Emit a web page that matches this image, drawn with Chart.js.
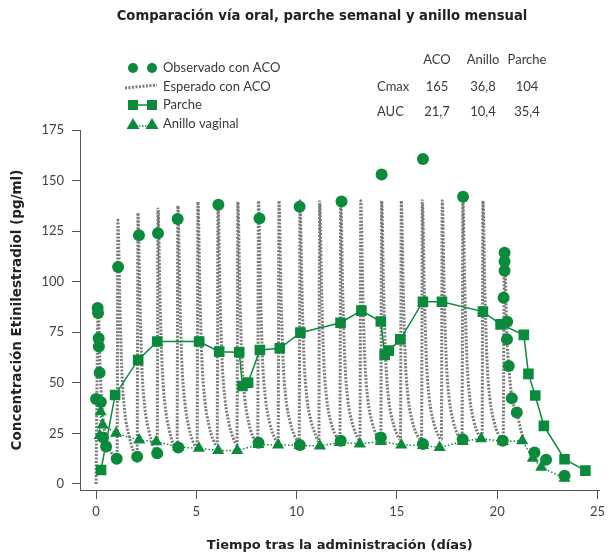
<!DOCTYPE html>
<html>
<head>
<meta charset="utf-8">
<script src="https://cdn.jsdelivr.net/npm/chart.js@4"></script>
<style>
  html, body { margin: 0; padding: 0; background: #fff; }
</style>
</head>
<body>
<canvas id="grafico" width="610" height="553"></canvas>
<script>
// Valores (dias, pg/ml)
const observadoACO = [
    [0.0, 42], [0.08, 87], [0.1, 84.5], [0.13, 72], [0.14, 68], [0.18, 55], [0.24, 40.5],
    [0.35, 23], [0.5, 18.5],
    [1.03, 12.4], [1.1, 107.3],
    [2.05, 13.5], [2.14, 123],
    [3.05, 15.2], [3.09, 124],
    [4.07, 131], [4.1, 18],
    [6.1, 138],
    [8.1, 20.4], [8.15, 131.3],
    [10.16, 19.3], [10.15, 137],
    [12.2, 21.3], [12.24, 139.6],
    [14.2, 23], [14.24, 153],
    [16.3, 19.8], [16.3, 160.7],
    [18.28, 22.1], [18.3, 142],
    [20.28, 21.4], [20.32, 92], [20.37, 114.3], [20.37, 110], [20.37, 105.4],
    [20.5, 80.2], [20.49, 71.5], [20.58, 58.3], [20.73, 42.4], [20.98, 35.3],
    [21.86, 15.5], [22.44, 11.9], [23.36, 4]
];

const esperadoACO = [
    [0, 0], [0.06, 60], [0.1, 88], [0.2, 58], [0.3, 38], [0.45, 25], [0.65, 18], [0.85, 14], [1.05, 12],
    [1.09, 130.5], [1.19, 88], [1.29, 55], [1.44, 35], [1.64, 24], [1.84, 17], [2.05, 14],
    [2.09, 134], [2.19, 90], [2.29, 57], [2.44, 37], [2.64, 26], [2.84, 19], [3.05, 15.5],
    [3.09, 136], [3.19, 92], [3.29, 59], [3.44, 39], [3.64, 27], [3.84, 20], [4.04, 17],
    [4.08, 137.5], [4.18, 93], [4.28, 60], [4.43, 40], [4.63, 28], [4.83, 21], [5.04, 18],
    [5.08, 139.5], [5.18, 94], [5.28, 61], [5.43, 41], [5.63, 29], [5.83, 22], [6.04, 19],
    [6.08, 140], [6.18, 95], [6.28, 62], [6.43, 42], [6.63, 30], [6.83, 23], [7.03, 19.5],
    [7.07, 139.5], [7.17, 95], [7.27, 62], [7.42, 42], [7.62, 30], [7.82, 23.5], [8.06, 20],
    [8.1, 140], [8.2, 95], [8.3, 62], [8.45, 42], [8.65, 30.5], [8.85, 24], [9.08, 20.5],
    [9.12, 140], [9.22, 95], [9.32, 62], [9.47, 42], [9.67, 31], [9.87, 24.5], [10.13, 21],
    [10.17, 140], [10.27, 95], [10.37, 62], [10.52, 42], [10.72, 31], [10.92, 25], [11.11, 21],
    [11.15, 139.5], [11.25, 95], [11.35, 62], [11.5, 42], [11.7, 31], [11.9, 25], [12.16, 21.5],
    [12.2, 140], [12.3, 95], [12.4, 62], [12.55, 42], [12.75, 31], [12.95, 25], [13.16, 21.5],
    [13.2, 140], [13.3, 95], [13.4, 62], [13.55, 42], [13.75, 31], [13.95, 25], [14.2, 22],
    [14.24, 140], [14.34, 95], [14.44, 62], [14.59, 42], [14.79, 31], [14.99, 25], [15.18, 22],
    [15.22, 140], [15.32, 95], [15.42, 62], [15.57, 42], [15.77, 31], [15.97, 25], [16.23, 22],
    [16.27, 140], [16.37, 95], [16.47, 62], [16.62, 42], [16.82, 31], [17.02, 25], [17.22, 22],
    [17.26, 140], [17.36, 95], [17.46, 62], [17.61, 42], [17.81, 31], [18.01, 25], [18.25, 22],
    [18.29, 140], [18.39, 95], [18.49, 62], [18.64, 42], [18.84, 31], [19.04, 25], [19.25, 22],
    [19.29, 140], [19.39, 95], [19.49, 62], [19.64, 42], [19.84, 31], [20.04, 25], [20.3, 22.5],
    [20.36, 116], [20.49, 72], [20.58, 58], [20.73, 43], [20.98, 35], [21.2, 26], [21.4, 20]
];

const parche = [
    [0.25, 6.9], [0.95, 44], [2.1, 61.3], [3.05, 70.4], [5.14, 70.4], [6.14, 65.4],
    [7.14, 65.1], [7.3, 48.4], [7.58, 50.1], [8.17, 66.2], [9.16, 67.1], [10.19, 74.8],
    [12.19, 79.7], [13.23, 85.7], [14.2, 80.3], [14.39, 63.8], [14.6, 65.9], [15.17, 71.5],
    [16.3, 90.1], [17.25, 90.1], [19.29, 85.2], [20.17, 78.9], [21.33, 73.7], [21.56, 54.4],
    [21.9, 43.7], [22.33, 28.7], [23.36, 12.2], [24.4, 6.6]
];

const anilloVaginal = [
    [0.18, 24], [0.23, 35.7], [0.33, 29.2], [1.0, 25], [2.15, 21.7], [3.0, 20.9], [4.1, 18.3],
    [5.13, 17.6], [6.09, 16.5], [7.04, 16.5], [8.1, 19.5], [9.08, 19.3], [10.15, 19],
    [11.16, 18.8], [12.15, 20.5], [13.15, 19.8], [14.2, 21], [15.22, 19.3], [16.3, 19],
    [17.13, 18], [18.28, 21], [19.2, 22.4], [20.28, 21], [21.25, 21.4], [21.78, 12.7],
    [22.2, 8.3], [23.36, 2.8]
];

const ticksX = [0, 5, 10, 15, 20, 25];
const ticksY = [0, 25, 50, 75, 100, 125, 150, 175];

// Tabla de parametros
const columnasTabla = ['ACO', 'Anillo', 'Parche'];
const filasTabla = ['Cmax', 'AUC'];
const valoresTabla = [['165', '36,8', '104'], ['21,7', '10,4', '35,4']];

const leyenda = ['Observado con ACO', 'Esperado con ACO', 'Parche', 'Anillo vaginal'];

const VERDE = '#0b8a3c';
const GRIS = 'rgba(90,90,90,0.8)';
const TEXTO = '#3a3a3a';

const toPoints = (arr) => arr.map(p => ({ x: p[0], y: p[1] }));

// Titulo, leyenda y tabla dibujados sobre el canvas
const anotaciones = {
    id: 'anotaciones',
    afterDraw(chart) {
        const ctx = chart.ctx;
        ctx.save();

        ctx.fillStyle = '#222';
        ctx.font = 'bold 13.2px "DejaVu Sans"';
        ctx.textAlign = 'center';
        ctx.textBaseline = 'middle';
        ctx.fillText('Comparación vía oral, parche semanal y anillo mensual', 322, 17);

        // leyenda
        const filasY = [68, 87, 105, 124];
        ctx.font = '13px Lato';
        ctx.textAlign = 'left';
        ctx.fillStyle = TEXTO;
        leyenda.forEach((t, i) => ctx.fillText(t, 163, filasY[i]));

        ctx.fillStyle = VERDE;
        [133, 152].forEach(x => {
            ctx.beginPath();
            ctx.arc(x, filasY[0], 5, 0, Math.PI * 2);
            ctx.fill();
        });

        ctx.strokeStyle = GRIS;
        ctx.lineWidth = 3;
        ctx.setLineDash([2, 1.5]);
        ctx.beginPath();
        ctx.moveTo(125, filasY[1] + 1);
        ctx.lineTo(157, filasY[1] - 2);
        ctx.stroke();

        ctx.strokeStyle = VERDE;
        ctx.lineWidth = 1.5;
        ctx.setLineDash([]);
        ctx.beginPath();
        ctx.moveTo(133, filasY[2]);
        ctx.lineTo(152, filasY[2]);
        ctx.stroke();
        [133, 152].forEach(x => ctx.fillRect(x - 5, filasY[2] - 5, 10, 10));

        ctx.setLineDash([1.5, 1.5]);
        ctx.beginPath();
        ctx.moveTo(133, filasY[3] + 2);
        ctx.lineTo(152, filasY[3] + 2);
        ctx.stroke();
        ctx.setLineDash([]);
        [133, 152].forEach(x => {
            ctx.beginPath();
            ctx.moveTo(x, filasY[3] - 6);
            ctx.lineTo(x + 6.5, filasY[3] + 5);
            ctx.lineTo(x - 6.5, filasY[3] + 5);
            ctx.closePath();
            ctx.fill();
        });

        // tabla
        const colX = [437, 483, 527];
        ctx.fillStyle = TEXTO;
        ctx.textAlign = 'center';
        columnasTabla.forEach((c, i) => ctx.fillText(c, colX[i], 60));
        const rowY = [87, 112];
        filasTabla.forEach((f, r) => {
            ctx.textAlign = 'left';
            ctx.fillText(f, 377, rowY[r]);
            ctx.textAlign = 'center';
            valoresTabla[r].forEach((v, i) => ctx.fillText(v, colX[i], rowY[r]));
        });

        ctx.restore();
    }
};

const ctx = document.getElementById('grafico').getContext('2d');
const grafico = new Chart(ctx, {
    type: 'line',
    data: {
        datasets: [
            {
                label: leyenda[0],
                data: toPoints(observadoACO),
                showLine: false,
                pointStyle: 'circle',
                pointRadius: 6,
                pointBackgroundColor: VERDE,
                pointBorderWidth: 0,
                order: 0
            },
            {
                label: leyenda[2],
                data: toPoints(parche),
                borderColor: VERDE,
                borderWidth: 1.5,
                pointStyle: 'rect',
                pointRadius: 7.5,
                pointBackgroundColor: VERDE,
                pointBorderWidth: 0,
                order: 1
            },
            {
                label: leyenda[3],
                data: toPoints(anilloVaginal),
                borderColor: VERDE,
                borderWidth: 1.5,
                borderDash: [1.5, 2],
                pointStyle: 'triangle',
                pointRadius: 7,
                pointBackgroundColor: VERDE,
                pointBorderWidth: 0,
                order: 2
            },
            {
                label: leyenda[1],
                data: toPoints(esperadoACO),
                borderColor: GRIS,
                borderWidth: 3,
                borderDash: [2, 1.5],
                cubicInterpolationMode: 'monotone',
                pointRadius: 0,
                order: 3
            }
        ]
    },
    options: {
        responsive: false,
        animation: false,
        layout: { padding: { top: 130, right: 10, bottom: 0, left: 0 } },
        plugins: {
            legend: { display: false },
            title: { display: false },
            tooltip: { enabled: false }
        },
        scales: {
            x: {
                type: 'linear',
                min: -0.8,
                max: 25.1,
                afterFit: (scale) => { scale.height = 63; },
                afterBuildTicks: (scale) => { scale.ticks = ticksX.map(v => ({ value: v })); },
                grid: { drawOnChartArea: false, drawTicks: true, tickLength: 9, color: '#555' },
                border: { display: true, color: '#555', width: 1 },
                ticks: { font: { family: 'Lato', size: 13 }, color: '#444', padding: 5 },
                title: {
                    display: true,
                    text: 'Tiempo tras la administración (días)',
                    font: { family: 'DejaVu Sans', size: 13, weight: 'bold' },
                    color: '#222',
                    padding: { top: 0, bottom: 0 }
                }
            },
            y: {
                type: 'linear',
                min: -3,
                max: 175,
                afterFit: (scale) => { scale.width = 80; },
                afterBuildTicks: (scale) => { scale.ticks = ticksY.map(v => ({ value: v })); },
                grid: { drawOnChartArea: false, drawTicks: true, tickLength: 8, color: '#555' },
                border: { display: true, color: '#555', width: 1 },
                ticks: { font: { family: 'Lato', size: 13 }, color: '#444', padding: 8 },
                title: {
                    display: true,
                    text: 'Concentración Etinilestradiol (pg/ml)',
                    font: { family: 'DejaVu Sans', size: 13.5, weight: 'bold' },
                    color: '#222',
                    padding: { top: 9, bottom: 0 }
                }
            }
        }
    },
    plugins: [anotaciones]
});
</script>
</body>
</html>
